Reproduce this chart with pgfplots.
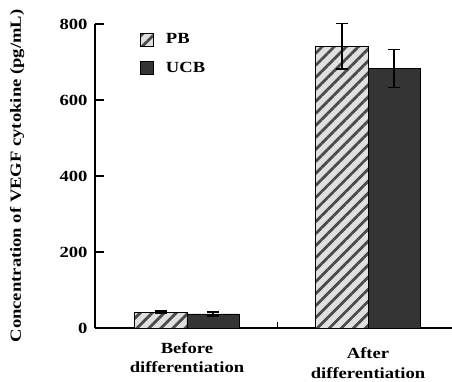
\documentclass[border=0pt]{standalone}
\usepackage{fontspec}
\setmainfont{Liberation Serif}[FakeStretch=1.2]
\usepackage{pgfplots}
\pgfplotsset{compat=1.18}
\usetikzlibrary{patterns.meta}
\definecolor{ucb}{RGB}{52,52,52}
\definecolor{pbbg}{RGB}{224,224,224}
\definecolor{hatch}{RGB}{75,75,75}
\newcommand{\ff}{\fontsize{15.5}{19.5}\selectfont\bfseries}
\pgfplotsset{mylegend/.style={legend image code/.code={\draw[#1,line width=0.8pt] (0pt,-6.5pt) rectangle (13pt,6.5pt);}}}
\begin{document}
\begin{tikzpicture}
\begin{axis}[
  scale only axis, width=357pt, height=304pt,
  at={(0,0)}, anchor=south west,
  xmin=-0.508, xmax=1.464, ymin=0, ymax=800,
  axis x line=bottom, axis y line=left,
  axis line style={-, line width=1.2pt},
  ytick={0,200,400,600,800},
  tick align=inside, major tick length=9pt,
  tick style={line width=1.2pt, black},
  /pgf/number format/assume math mode=true,
  ticklabel style={font=\ff},
  yticklabel style={xshift=-4pt},
  xtick={0,1},
  xticklabels={{Before\\differentiation},{\rule{0pt}{16pt}After\\differentiation}},
  xticklabel style={align=center, font=\ff, yshift=-11pt},
  xtick style={draw=none},
  extra x ticks={0.5},
  extra x tick labels={},
  extra x tick style={major tick length=6pt, xtick style={draw=black}},
  ylabel={Concentration of VEGF cytokine (pg/mL)},
  ylabel style={font=\ff, at={(axis description cs:-0.218,0.5)}, anchor=center},
  legend style={at={(axis description cs:0.126,0.975)}, anchor=north west,
    draw=none, fill=none, font=\ff, row sep=13pt, inner sep=0pt,
    cells={anchor=west}},
  clip=false,
]
\addplot[ybar, bar width=0.29, bar shift=0, fill=pbbg, draw=black, line width=0.8pt,
  postaction={pattern={Lines[angle=45,distance=8.5pt,line width=2.8pt]},pattern color=hatch},
  mylegend,
  error bars/.cd, y dir=both, y explicit,
  error bar style={line width=1.6pt,black},
  error mark options={rotate=90,mark size=6pt,line width=1.6pt,black}]
  coordinates {(-0.145,42) +- (0,2) (0.855,741) +- (0,60)};
\addlegendentry{\hspace{10pt}PB}
\addplot[ybar, bar width=0.29, bar shift=0, fill=ucb, draw=black, line width=0.8pt,
  mylegend,
  error bars/.cd, y dir=both, y explicit,
  error bar style={line width=1.6pt,black},
  error mark options={rotate=90,mark size=6pt,line width=1.6pt,black}]
  coordinates {(0.145,37) +- (0,5) (1.145,683) +- (0,50)};
\addlegendentry{\hspace{10pt}UCB}
\end{axis}
\pgfresetboundingbox
\path[use as bounding box] (-95pt,-53pt) rectangle (357pt,328pt);
\end{tikzpicture}
\end{document}
